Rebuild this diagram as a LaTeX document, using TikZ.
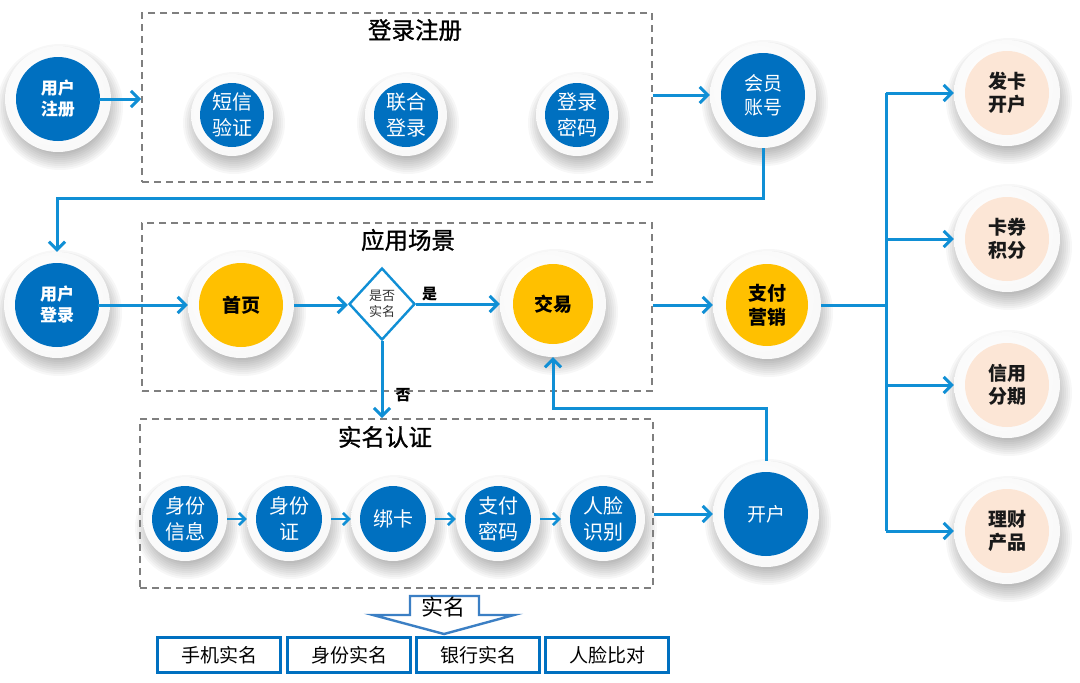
\documentclass[tikz,border=0pt]{standalone}
\usepackage{fontspec}
\setmainfont{Noto Sans CJK SC}
\newfontfamily\titlefont[FakeBold=1.1]{Noto Sans CJK SC}
\usetikzlibrary{arrows.meta,shapes.geometric,calc}
\definecolor{cblue}{RGB}{0,112,192}
\definecolor{cyel}{RGB}{255,192,0}
\definecolor{cpeach}{RGB}{252,230,214}
\definecolor{cline}{RGB}{16,143,213}
\definecolor{cdash}{RGB}{127,127,127}
\definecolor{carrow}{RGB}{59,127,196}
\pgfdeclareradialshading{ringshade}{\pgfpoint{-6bp}{6bp}}{color(0bp)=(white); color(34bp)=(black!3); color(50bp)=(black!14)}
\tikzset{
  ringnode/.style={circle, inner sep=0pt, shade, shading=ringshade},
  corenode/.style={circle, inner sep=0pt, align=center},
  bluebig/.style={fill=cblue, text=white, font=\fontsize{17}{21}\selectfont\bfseries},
  bluemid/.style={fill=cblue, text=white, font=\fontsize{19}{24}\selectfont},
  bluesmall/.style={fill=cblue, text=white, font=\fontsize{20}{26}\selectfont},
  yellowc/.style={fill=cyel, text=black, font=\fontsize{19}{24}\selectfont\bfseries},
  peachc/.style={fill=cpeach, text=black!90, font=\fontsize{19}{23}\selectfont\bfseries},
  conn/.style={draw=cline, line width=3pt, -{Straight Barb[length=8pt,width=16pt]}},
  connsmall/.style={draw=cline, line width=2.6pt, -{Straight Barb[length=6pt,width=12pt]}},
  plainconn/.style={draw=cline, line width=3pt},
  dashbox/.style={draw=cdash, line width=1.8pt, dash pattern=on 7pt off 5pt, inner sep=0pt},
  boxtitle/.style={font=\fontsize{23.5}{27}\selectfont\titlefont, text=black},
  vbox/.style={draw=cblue, line width=3pt, fill=white, minimum width=123, minimum height=35, inner sep=0pt, font=\fontsize{19}{22}\selectfont},
  lbl/.style={font=\fontsize{15}{18}\selectfont\bfseries, text=black, inner sep=2pt}
}
\newcommand\mybubble[6]{%
  \foreach \k in {0,...,8} {\fill[black, opacity=0.032] ($(#2)+(2,8)$) circle[radius=#3+10-2*\k];}
  \node[ringnode, minimum size=2*#3] (#1) at (#2) {};
  \node[corenode, #5, minimum size=2*#4] (#1-in) at (#2) {#6};
}
\begin{document}
\begin{tikzpicture}[x=1pt,y=-1pt]
\useasboundingbox (0,0) rectangle (1080,683);
\fill[white] (0,0) rectangle (1080,683);

\mybubble{uz}{58,99}{53}{42}{bluebig}{用户\\注册}
\mybubble{dx}{232,115}{41}{32}{bluesmall}{短信\\验证}
\mybubble{lh}{406,115}{41}{32}{bluesmall}{联合\\登录}
\mybubble{dm}{577,115}{41}{32}{bluesmall}{登录\\密码}
\mybubble{hy}{763,95}{53}{42}{bluemid}{会员\\账号}
\mybubble{yd}{57,305}{53}{42}{bluebig}{用户\\登录}
\mybubble{sy}{241,305}{53}{42}{yellowc}{首页}
\mybubble{jy}{553,304}{53}{40}{yellowc}{交易}
\mybubble{zf}{767,305}{54}{41}{yellowc}{支付\\营销}
\mybubble{a1}{185,519}{42}{33}{bluesmall}{身份\\信息}
\mybubble{a2}{289,519}{42}{33}{bluesmall}{身份\\证}
\mybubble{a3}{393,519}{42}{33}{bluesmall}{绑卡}
\mybubble{a4}{498,519}{42}{33}{bluesmall}{支付\\密码}
\mybubble{a5}{603,519}{42}{33}{bluesmall}{人脸\\识别}
\mybubble{kh}{766,514}{53}{42}{bluemid}{开户}
\mybubble{r1}{1007,93}{53}{42}{peachc}{发卡\\开户}
\mybubble{r2}{1007,239}{53}{42}{peachc}{卡券\\积分}
\mybubble{r3}{1007,385}{53}{42}{peachc}{信用\\分期}
\mybubble{r4}{1007,531}{53}{42}{peachc}{理财\\产品}

\node[dashbox, minimum width=510, minimum height=169] (box1) at (397,97.5) {};
\node[dashbox, minimum width=510, minimum height=168] (box2) at (397,307) {};
\node[dashbox, minimum width=513, minimum height=169] (box3) at (396.5,503.5) {};
\node[boxtitle] (t1) at (415,30) {登录注册};
\node[boxtitle] (t2) at (408,240) {应用场景};
\node[boxtitle] (t3) at (385,437) {实名认证};

\node[diamond, draw=cline, fill=white, line width=2.4pt, minimum width=66, minimum height=72, inner sep=0pt, align=center, font=\fontsize{13}{16}\selectfont, text=black!80] (q) at (382,304) {是否\\实名};

\draw[conn] ([xshift=-12pt]uz.east) -- (uz.east -| box1.west);
\draw[conn] (box1.east |- hy.west) -- (hy.west);
\coordinate (turnA) at (0,198);
\draw[conn] (hy.south) -- (hy.south |- turnA) -| (yd.north);
\draw[conn] ([xshift=-12pt]yd.east) -- (yd.east -| sy.west);
\draw[conn] (sy.east) -- (sy.east -| q.west);
\draw[conn] (q.east) -- node[lbl, pos=0.16, above] (yes) {是} (jy.west);
\draw[conn] (q.south) -- node[lbl, pos=0.7, right=10pt] (no) {否} (q.south |- box3.north);
\draw[conn] (box2.east |- zf.west) -- (zf.west);
\coordinate (bus) at (886,0);
\draw[plainconn] (zf.east) -- (zf.east -| bus);
\draw[plainconn] (bus |- r1.west) -- (bus |- r4.west);
\foreach \r in {r1,r2,r3,r4} \draw[conn] (bus |- \r.west) -- (\r.west);
\draw[connsmall] (a1.east) -- (a2.west);
\draw[connsmall] (a2.east) -- (a3.west);
\draw[connsmall] (a3.east) -- (a4.west);
\draw[connsmall] (a4.east) -- (a5.west);
\draw[conn] (box3.east |- kh.west) -- (kh.west);
\coordinate (turnB) at (0,408);
\draw[conn] (kh.north) -- (kh.north |- turnB) -| (jy.south);

\draw[draw=carrow, fill=white, line width=2.4pt, line join=miter] (410,596) -- (479,596) -- (479,615) -- (514,615) -- (444,634) -- (373,615) -- (410,615) -- cycle;
\node[font=\fontsize{22}{24}\selectfont, inner sep=0pt] (smlbl) at (443,607) {实名};
\node[vbox] (b1) at (219,655) {手机实名};
\node[vbox] (b2) at (349,655) {身份实名};
\node[vbox] (b3) at (478,655) {银行实名};
\node[vbox] (b4) at (607,655) {人脸比对};
\end{tikzpicture}
\end{document}
